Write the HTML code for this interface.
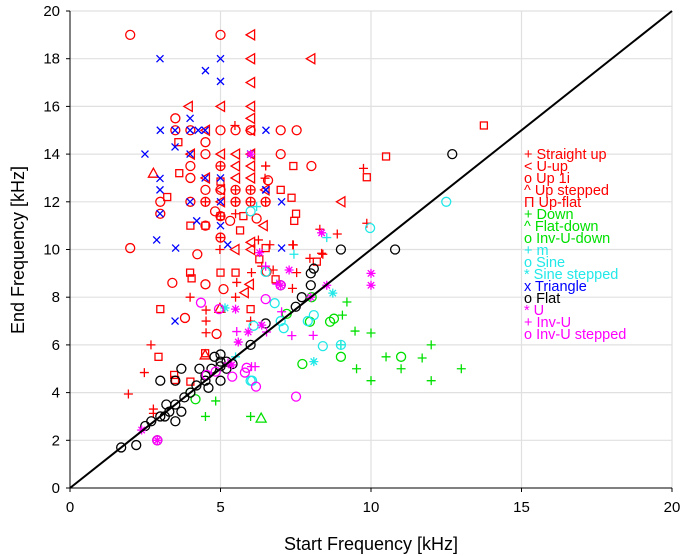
<!DOCTYPE html>
<html><head><meta charset="utf-8"><style>
body{margin:0;background:#fff}
svg{display:block;font-family:"Liberation Sans",sans-serif}
</style></head><body>
<svg id="chart" width="685" height="556"></svg>
<script>
const xTicks=[0,5,10,15,20];
const yTicks=[0,2,4,6,8,10,12,14,16,18,20];
const straightUp=[[5.48,15.2],[6.5,13.5],[5.5,12],[5.5,11.5],[6.26,10.4],[6.64,10.2],[7.4,10.2],[4.98,10],[8.4,9.8],[6.03,9.03],[5.54,8.62],[7.53,9.03],[7.97,9.63],[7.39,8.37],[3.99,8],[5.5,8],[4.52,7.46],[4.52,7],[4.52,6.51],[6,7],[2.69,6],[2.47,4.84],[1.94,3.94],[2.77,3.31],[2.77,3.13],[6.5,13.5],[9.75,13.4],[6.48,12.99],[9.86,11.1],[8.3,10.85],[8.88,10.65],[7.42,10.19],[8.36,9.84],[6.75,9.14],[6.37,9.3],[5,13.5],[5.5,12.5],[6,12.5],[6,12],[6.5,12],[4.5,12],[5,11.4],[5,10.5]];
const uUp=[[6,19],[6,18],[8,18],[6,17],[3.93,16],[5,16],[6,16],[6,15.5],[6,15],[4.5,15],[6,14],[5,14],[5.5,14],[5.5,13.5],[6,13.5],[4.5,13],[5.5,13],[6,13],[5,12.5],[5,12],[6.48,12.5],[6.42,11],[6,10.3],[5.48,10],[6,10],[5.96,8.54],[5.79,8.19],[9,12],[4,14]];
const up1i=[[2,19],[5,19],[3.5,15.5],[3.5,15],[4,15],[5,15],[5.5,15],[7,15],[7.53,15],[4.5,14.5],[4.5,14],[7,14],[4,13.5],[8.02,13.5],[4,13],[6.58,12.9],[4.5,12.5],[5,12.5],[6,12.5],[4,12],[4.5,12],[6,12],[6.5,12],[4.82,11.6],[6.2,11.3],[5.32,11.2],[4.5,11],[3,11.5],[2,10.06],[4.23,9.8],[3.4,8.6],[4.5,8.54],[5.1,8.34],[3.82,7.13],[4.87,6.46],[6.53,9.07],[5,13.5],[5.5,12.5],[5.5,12],[5,11.4],[5,10.5],[3,12],[6,15]];
const upStepped=[[2.77,13.2],[4.98,7.53],[4.49,5.58]];
const upFlat=[[3.6,14.5],[3.63,13.2],[7.42,13.5],[3.23,12.2],[7,12.5],[7.36,12.17],[7.51,11.5],[7.45,11.2],[4,11],[4.5,11],[5,11.4],[5.76,11.4],[5.65,10.8],[3.99,9.03],[4.04,8.79],[5,9.03],[5.5,9.03],[3,7.5],[6,7.5],[2.94,5.5],[4.49,5.65],[3.46,4.74],[3.49,4.53],[4,4.46],[6.29,9.59],[6.5,10.06],[6.83,8.75],[8.2,9.49],[10.5,13.9],[9.86,13.03],[13.75,15.2],[5,12.85]];
const down=[[9.2,7.8],[9.05,7.25],[9.47,6.58],[10,6.5],[12,6],[10.5,5.5],[11.7,5.45],[9.52,5],[11,5],[13,5],[10,4.5],[12,4.5],[4.84,3.65],[4.5,3],[6,3],[9,6]];
const flatDown=[[6.35,2.93]];
const invUDown=[[8.03,8],[7.97,6.97],[8.64,6.97],[8.77,7.1],[9,5.5],[11,5.5],[7.72,5.2],[7.2,7.3],[4.17,3.72],[4,4]];
const mSeries=[[8.53,10.5],[7.44,9.8],[5.5,5.5],[9,6],[6.2,11.8]];
const sine=[[9.97,10.9],[12.5,12],[6.5,9.06],[6.8,7.75],[8.1,7.25],[7.9,7],[7.1,6.7],[6.1,6.8],[8.4,5.95],[9,6],[6,4.5],[7,7],[6.05,4.5],[6,11.6]];
const sineStepped=[[8.73,8.17],[8.1,5.3],[5.15,7.55]];
const triangle=[[2.99,18],[5,18],[4.5,17.5],[5,17.05],[3.99,15.5],[3,15],[3.49,15],[3.99,15],[4.26,15],[4.49,15],[6.51,15],[3.49,14.3],[2.49,14],[3.99,14],[6,14],[2.99,12.98],[4.49,13],[5,13],[2.99,12.5],[6.51,12.5],[3.99,12],[5,12],[7.03,12],[2.99,11.5],[4.21,11.2],[5,11],[2.88,10.4],[3.51,10.06],[5.24,10.2],[7.03,10.06],[3.49,7],[6.5,12.5]];
const flat=[[1.7,1.7],[2.2,1.8],[2.5,2.6],[2.7,2.8],[3,3],[3.15,3],[3.3,3.2],[3,4.5],[3.5,3.5],[3.5,4.5],[3.7,3.2],[3.7,5],[3.8,3.8],[4,4],[4.2,4.3],[4.5,4.5],[4.5,4.7],[4.3,5],[4.7,5],[4.8,5.5],[5,5.3],[5,5.6],[5,5.1],[5.2,5.3],[5.4,5.2],[5,4.5],[5.2,5],[6,6],[6.5,6.9],[7,8.5],[7.5,7.6],[7.7,8],[8,8.5],[8,9],[8.1,9.2],[9,10],[10.8,10],[12.7,14],[3.5,2.8],[2.9,2.0],[4.6,4.2],[3.2,3.5]];
const uSeries=[[8.36,10.7],[6.3,9.87],[7.28,9.14],[7,8.5],[8.53,8.5],[10,9],[10,8.5],[6.37,6.83],[5.5,7.5],[5.92,6.54],[5.59,6.12],[2.38,2.43],[2.9,2],[5.37,5.16],[6,14],[8,8]];
const invU=[[6.87,8.55],[7.03,7.39],[7.37,6.39],[8.08,6.4],[6.03,5.09],[6.5,9.3],[5.54,6.56],[6.53,6.54],[6.15,5.09],[5.25,5.24]];
const invUStepped=[[4.35,7.77],[6.5,7.92],[4.95,7.5],[4.54,4.74],[4.84,4.88],[5.39,4.67],[5.81,4.84],[5.87,5.04],[6.18,4.25],[7.51,3.83],[2.9,2],[7,8.5]];

const NS='http://www.w3.org/2000/svg';
const svg=document.getElementById('chart');
const L=70,R=672,T=11,B=488;
const sx=v=>L+(R-L)*v/20, sy=v=>B-(B-T)*v/20;
function mk(tag,attrs,parent){const e=document.createElementNS(NS,tag);for(const k in attrs)e.setAttribute(k,attrs[k]);(parent||svg).appendChild(e);return e;}
const RED='#ff0000',GRN='#00e000',CYN='#22e8e8',BLU='#0000ff',BLK='#000000',MAG='#ff00ff';

const grid=mk('g',{});


xTicks.forEach(t=>{if(t>0)mk('line',{x1:sx(t),x2:sx(t),y1:T,y2:B,stroke:'#e0e0e0','stroke-width':1.2},grid);});
yTicks.forEach(t=>{if(t>0)mk('line',{x1:L,x2:R,y1:sy(t),y2:sy(t),stroke:'#e0e0e0','stroke-width':1.2},grid);});

const axes=mk('g',{});


mk('line',{x1:L,x2:L,y1:T,y2:B,stroke:'#000','stroke-width':1},axes);
mk('line',{x1:L,x2:R,y1:B,y2:B,stroke:'#000','stroke-width':1},axes);
xTicks.forEach(t=>{
  mk('line',{x1:sx(t),x2:sx(t),y1:B,y2:B+4,stroke:'#000'},axes);
  const tx=mk('text',{x:sx(t),y:B+24,'text-anchor':'middle','font-size':15},axes);
  tx.textContent=t;
  
  
});
yTicks.forEach(t=>{
  mk('line',{x1:L-4,x2:L,y1:sy(t),y2:sy(t),stroke:'#000'},axes);
  const tx=mk('text',{x:L-10,y:sy(t)+5,'text-anchor':'end','font-size':15},axes);
  tx.textContent=t;
  
  
});
const xt=mk('text',{x:(L+R)/2,y:550,'text-anchor':'middle','font-size':18});
xt.textContent='Start Frequency [kHz]';


const yt=mk('text',{x:0,y:0,'text-anchor':'middle','font-size':18,transform:'translate(24,250) rotate(-90)'});
yt.textContent='End Frequency [kHz]';



function marker(type,x,y,c,g){
  const a={stroke:c,fill:'none','stroke-width':1.3};
  if(type==='o')mk('circle',Object.assign({cx:x,cy:y,r:4.5},a),g);
  else if(type==='+'){mk('path',Object.assign({d:`M${x-4.5},${y}H${x+4.5}M${x},${y-4.5}V${y+4.5}`},a),g);}
  else if(type==='x'){mk('path',Object.assign({d:`M${x-3.5},${y-3.5}L${x+3.5},${y+3.5}M${x+3.5},${y-3.5}L${x-3.5},${y+3.5}`},a),g);}
  else if(type==='*'){mk('path',Object.assign({d:`M${x-4.5},${y}H${x+4.5}M${x},${y-4.5}V${y+4.5}M${x-3.2},${y-3.2}L${x+3.2},${y+3.2}M${x+3.2},${y-3.2}L${x-3.2},${y+3.2}`},a),g);}
  else if(type==='<')mk('path',Object.assign({d:`M${x-4.5},${y}L${x+4},${y-5}L${x+4},${y+5}Z`},a),g);
  else if(type==='^')mk('path',Object.assign({d:`M${x},${y-5}L${x+5},${y+4}L${x-5},${y+4}Z`},a),g);
  else if(type==='s')mk('rect',Object.assign({x:x-3.5,y:y-3.5,width:7,height:7},a),g);
}
const series=[
 ['straight-up',straightUp,'+',RED],['u-up',uUp,'<',RED],['up-1i',up1i,'o',RED],['up-stepped',upStepped,'^',RED],['up-flat',upFlat,'s',RED],
 ['down',down,'+',GRN],['flat-down',flatDown,'^',GRN],['inv-u-down',invUDown,'o',GRN],
 ['m',mSeries,'+',CYN],['sine',sine,'o',CYN],['sine-stepped',sineStepped,'*',CYN],
 ['triangle',triangle,'x',BLU],['flat',flat,'o',BLK],
 ['u',uSeries,'*',MAG],['inv-u',invU,'+',MAG],['inv-u-stepped',invUStepped,'o',MAG]
];
series.forEach(([name,data,type,c])=>{
  const g=mk('g',{});
  
  
  data.forEach(([vx,vy])=>marker(type,sx(vx),sy(vy),c,g));
});

const diag=mk('line',{x1:sx(0),y1:sy(0),x2:sx(20),y2:sy(20),stroke:'#000','stroke-width':2});



const legendLabels=['Straight up','U-up','Up 1i','Up stepped','Up-flat','Down','Flat-down','Inv-U-down','m','Sine','Sine stepped','Triangle','Flat','U','Inv-U','Inv-U stepped'];
const legendSyms=['+','<','o','^','Π','+','^','o','+','o','*','x','o','*','+','o'];
const legendColors=[RED,RED,RED,RED,RED,GRN,GRN,GRN,CYN,CYN,CYN,BLU,BLK,MAG,MAG,MAG];
const lg=mk('g',{});


legendLabels.forEach((lab,i)=>{
  const t=mk('text',{x:524,y:159+i*12,'font-size':14.5,fill:legendColors[i]},lg);
  t.textContent=legendSyms[i]+' '+lab;
  
  
});
</script>
</body></html>
